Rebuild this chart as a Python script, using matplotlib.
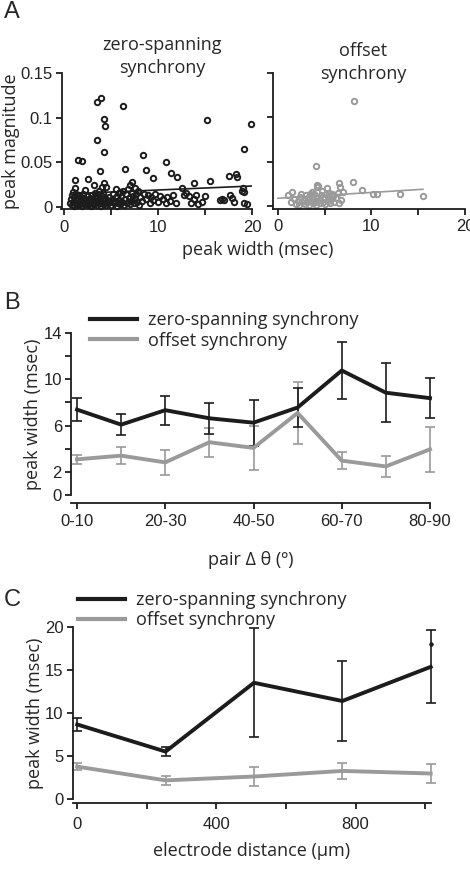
import matplotlib
matplotlib.use("Agg")
import matplotlib.pyplot as plt
from matplotlib.lines import Line2D

# ---------------- data ----------------
# Panel A: zero-spanning synchrony scatter (peak width msec, peak magnitude)
zero_x = [1.13, 1.45, 1.95, 2.5, 3.5, 3.9, 3.5, 3.8, 4.2, 4.25, 4.36, 4.3, 4.5, 6.27, 6.5, 8.37, 8.7, 9.5,
          10.9, 11.4, 12.0, 13.8, 15.2, 15.5, 17.6, 18.3, 18.4, 19.15, 19.86,
          0.6, 0.7, 0.8, 0.9, 1.0, 1.0, 1.1, 1.1, 1.2, 1.2, 1.3, 1.3, 1.4, 1.5, 1.5, 1.6, 1.7, 1.7, 1.8, 1.9,
          2.0, 2.0, 2.1, 2.2, 2.3, 2.4, 2.5, 2.6, 2.7, 2.8, 2.9, 3.0, 3.0, 3.1, 3.2, 3.3, 3.3, 3.4, 3.5, 3.5,
          3.6, 3.7, 3.7, 3.8, 3.9, 3.9, 4.0, 4.1, 4.1, 4.2, 4.3, 4.4, 4.5, 4.6, 4.7, 4.8, 4.9, 5.0, 5.1, 5.2,
          5.3, 5.4, 5.5, 5.6, 5.7, 5.8, 5.9, 6.0, 6.1, 6.2, 6.3, 6.4, 6.5, 6.6, 6.7, 6.8, 6.9, 7.0, 7.0, 7.1,
          7.2, 7.2, 7.3, 7.4, 7.5, 7.6, 7.7, 7.8, 7.9, 8.0, 8.1, 8.3, 8.5, 8.7, 8.9, 9.1, 9.3, 9.5, 9.7, 10.0,
          10.2, 10.5, 10.8, 11.0, 11.3, 11.6, 11.9, 12.5, 12.8, 13.0, 13.3, 13.5, 13.8, 14.0, 14.3, 14.7, 15.0,
          16.6, 16.8, 17.0, 17.7, 17.9, 18.1, 18.9, 19.0, 19.2, 19.1, 19.5, 3.2, 4.0, 2.2, 5.5, 6.0]
zero_y = [0.030, 0.0527, 0.0515, 0.031, 0.117, 0.122, 0.0745, 0.040, 0.062, 0.099, 0.0906, 0.027, 0.0227,
          0.113, 0.043, 0.058, 0.041, 0.033, 0.050, 0.038, 0.034, 0.027, 0.097, 0.029, 0.035, 0.037, 0.034,
          0.065, 0.0926,
          0.004, 0.009, 0.002, 0.013, 0.006, 0.017, 0.001, 0.011, 0.021, 0.004, 0.008, 0.015, 0.002, 0.010,
          0.005, 0.013, 0.003, 0.007, 0.011, 0.001, 0.006, 0.014, 0.003, 0.009, 0.005, 0.012, 0.002, 0.007,
          0.004, 0.010, 0.001, 0.006, 0.013, 0.003, 0.008, 0.016, 0.005, 0.011, 0.002, 0.007, 0.014, 0.004,
          0.018, 0.009, 0.001, 0.006, 0.012, 0.003, 0.016, 0.008, 0.005, 0.010, 0.002, 0.007, 0.004, 0.011,
          0.006, 0.002, 0.009, 0.014, 0.004, 0.007, 0.011, 0.001, 0.005, 0.016, 0.008, 0.003, 0.012, 0.006,
          0.018, 0.002, 0.009, 0.014, 0.005, 0.020, 0.010, 0.003, 0.025, 0.007, 0.016, 0.028, 0.012, 0.004,
          0.021, 0.009, 0.014, 0.006, 0.018, 0.002, 0.011, 0.007, 0.015, 0.009, 0.013, 0.005, 0.011, 0.008,
          0.015, 0.006, 0.012, 0.009, 0.004, 0.011, 0.007, 0.013, 0.005, 0.021, 0.013, 0.016, 0.012, 0.004,
          0.009, 0.013, 0.003, 0.006, 0.012, 0.008, 0.009, 0.008, 0.013, 0.010, 0.006, 0.018, 0.021, 0.017,
          0.004, 0.003, 0.025, 0.022, 0.019, 0.020, 0.017]
zero_fit_x = [1.0, 20.0]
zero_fit_y = [0.015, 0.0235]

# Panel A: offset synchrony scatter
off_x = [8.1, 4.1, 4.15, 4.3, 4.2, 5.2, 6.5, 6.6, 7.0, 8.0, 9.0, 10.2, 10.55, 13.0, 15.5, 1.5, 1.1, 6.4, 5.8,
         1.4, 1.7, 1.9, 2.1, 2.3, 2.4, 2.6, 2.8, 2.9, 3.0, 3.1, 3.2, 3.3, 3.4, 3.5, 3.6, 3.7, 3.8, 3.9, 4.0,
         4.1, 4.2, 4.4, 4.5, 4.6, 4.8, 4.9, 5.0, 5.1, 5.3, 5.4, 5.6, 5.7, 5.9, 6.0, 6.2, 6.5, 6.7, 2.5, 3.6,
         4.7, 5.5]
off_y = [0.118, 0.045, 0.024, 0.023, 0.021, 0.020, 0.026, 0.0215, 0.016, 0.027, 0.018, 0.0135, 0.014, 0.014,
         0.0115, 0.016, 0.012, 0.015, 0.014,
         0.004, 0.008, 0.002, 0.006, 0.001, 0.010, 0.004, 0.007, 0.002, 0.012, 0.005, 0.009, 0.001, 0.014,
         0.006, 0.010, 0.003, 0.008, 0.013, 0.005, 0.001, 0.010, 0.007, 0.003, 0.012, 0.005, 0.009, 0.002,
         0.013, 0.006, 0.010, 0.003, 0.008, 0.011, 0.005, 0.009, 0.003, 0.007, 0.013, 0.016, 0.017, 0.015]
off_fit_x = [0.0, 15.5]
off_fit_y = [0.0087, 0.0188]

# Panel B: peak width vs pair delta theta
theta_labels = ["0-10", "10-20", "20-30", "30-40", "40-50", "50-60", "60-70", "70-80", "80-90"]
b_zero = [7.38, 6.08, 7.33, 6.63, 6.25, 7.56, 10.76, 8.84, 8.37]
b_zero_err = [1.0, 0.9, 1.25, 1.35, 2.0, 1.65, 2.45, 2.55, 1.73]
b_off = [3.08, 3.4, 2.82, 4.56, 4.07, 7.09, 2.97, 2.47, 3.95]
b_off_err = [0.37, 0.72, 1.1, 1.25, 1.9, 2.65, 0.76, 0.9, 1.96]

# Panel C: peak width vs electrode distance
dist = [0, 254, 508, 762, 1016]
c_zero = [8.7, 5.55, 13.55, 11.43, 15.4]
c_zero_err = [0.7, 0.5, 6.35, 4.7, 4.25]
c_off = [3.8, 2.2, 2.65, 3.3, 3.0]
c_off_err = [0.45, 0.55, 1.05, 0.95, 1.1]
c_extra_x = [1016]
c_extra_y = [18.0]

# ---------------- style ----------------
W, H = 470, 872
BLACK = "#1c1c1c"
GRAY = "#9a9a9a"
TXT = "#262626"
LAB_FONT = ["Open Sans", "DejaVu Sans"]
TICK_FONT = ["Liberation Sans", "DejaVu Sans"]
LS = 13  # label font size
TS = 12  # tick font size

plt.rcParams["font.family"] = TICK_FONT
plt.rcParams["axes.linewidth"] = 1.3
plt.rcParams["xtick.major.width"] = 1.3
plt.rcParams["ytick.major.width"] = 1.3
plt.rcParams["xtick.major.size"] = 4.5
plt.rcParams["ytick.major.size"] = 4.5
plt.rcParams["xtick.labelsize"] = TS
plt.rcParams["ytick.labelsize"] = TS
plt.rcParams["xtick.color"] = BLACK
plt.rcParams["ytick.color"] = BLACK
plt.rcParams["xtick.labelcolor"] = "#222222"
plt.rcParams["ytick.labelcolor"] = "#222222"

fig = plt.figure(figsize=(W / 100, H / 100), dpi=100)


def rect(l, t, r, b):
    return [l / W, 1 - b / H, (r - l) / W, (b - t) / H]


def fx(px):
    return px / W


def fy(py):
    return 1 - py / H


def clean(ax):
    for s in ("top", "right"):
        ax.spines[s].set_visible(False)
    for s in ("left", "bottom"):
        ax.spines[s].set_color(BLACK)


# ---------------- Panel A left ----------------
axA1 = fig.add_axes(rect(61.5, 73, 252, 209.5))
clean(axA1)
axA1.plot(zero_x, zero_y, linestyle="none", marker="o", markersize=3.9, markerfacecolor="none",
          markeredgecolor=BLACK, markeredgewidth=1.4, clip_on=False)
axA1.plot(zero_fit_x, zero_fit_y, color=BLACK, lw=1.2)
axA1.set_xlim(-0.27, 20)
axA1.set_ylim(-0.0028, 0.15)
axA1.set_xticks([0, 5, 10, 15, 20])
axA1.set_xticklabels(["0", "", "10", "", "20"])
axA1.set_yticks([0, 0.05, 0.1, 0.15])
axA1.set_yticklabels(["0", "0.05", "0.1", "0.15"])
axA1.tick_params(axis="y", pad=2)
axA1.tick_params(axis="x", pad=3)
axA1.set_ylabel("peak magnitude", family=LAB_FONT, fontsize=LS, color=TXT, labelpad=0)
fig.text(fx(162), fy(56.5), "zero-spanning\nsynchrony", ha="center", va="center",
         family=LAB_FONT, fontsize=LS, color=TXT, linespacing=1.3)

# ---------------- Panel A right ----------------
axA2 = fig.add_axes(rect(273, 72.7, 465, 209))
clean(axA2)
axA2.plot(off_x, off_y, linestyle="none", marker="o", markersize=3.9, markerfacecolor="none",
          markeredgecolor=GRAY, markeredgewidth=1.4, clip_on=False)
axA2.plot(off_fit_x, off_fit_y, color=GRAY, lw=1.2)
axA2.set_xlim(-0.53, 20)
axA2.set_ylim(-0.0034, 0.15)
axA2.set_xticks([0, 5, 10, 15, 20])
axA2.set_xticklabels(["0", "", "10", "", "20"])
axA2.set_yticks([0, 0.05, 0.1, 0.15])
axA2.set_yticklabels([])
axA2.tick_params(axis="x", pad=3)
fig.text(fx(363), fy(62.5), "offset\nsynchrony", ha="center", va="center",
         family=LAB_FONT, fontsize=LS, color=TXT, linespacing=1.3)

fig.text(fx(258), fy(250), "peak width (msec)", ha="center", va="center", family=LAB_FONT,
         fontsize=LS, color=TXT)
fig.text(fx(4), fy(12), "A", ha="left", va="center", fontsize=17, color=TXT, family=TICK_FONT)

# ---------------- Panel B ----------------
axB = fig.add_axes(rect(71, 333, 430, 495))
clean(axB)
xb = list(range(len(theta_labels)))
axB.errorbar(xb, b_off, yerr=b_off_err, color=GRAY, lw=2.8, elinewidth=1.2, capsize=3.5,
             capthick=1.2, clip_on=False, label="offset synchrony")
axB.errorbar(xb, b_zero, yerr=b_zero_err, color=BLACK, lw=2.8, elinewidth=1.2, capsize=3.5,
             capthick=1.2, clip_on=False, label="zero-spanning synchrony")
axB.set_xlim(-0.136, 8)
axB.set_ylim(0, 14)
axB.spines["bottom"].set_position(("outward", 6.1))
axB.set_xticks(xb[::2])
axB.set_xticklabels(theta_labels[::2])
axB.set_yticks([0, 2, 4, 6, 8, 10, 12, 14])
axB.set_yticklabels(["0", "2", "", "6", "", "10", "", "14"])
axB.tick_params(axis="y", pad=2)
axB.tick_params(axis="x", pad=3)
axB.set_ylabel("peak width (msec)", family=LAB_FONT, fontsize=LS, color=TXT, labelpad=1)
axB.set_xlabel("pair Δ θ (º)", family=LAB_FONT, fontsize=LS, color=TXT, labelpad=16)
legB = [Line2D([0], [0], color=BLACK, lw=3), Line2D([0], [0], color=GRAY, lw=3)]
axB.legend(legB, ["zero-spanning synchrony", "offset synchrony"], loc="upper left",
           bbox_to_anchor=(fx(90), fy(311)), bbox_transform=fig.transFigure, frameon=False,
           borderpad=0, borderaxespad=0, handlelength=2.6, handletextpad=0.6, labelspacing=0.15,
           prop={"family": LAB_FONT, "size": LS}, labelcolor=TXT)
fig.text(fx(4), fy(303), "B", ha="left", va="center", fontsize=17, color=TXT, family=TICK_FONT)

# ---------------- Panel C ----------------
axC = fig.add_axes(rect(72.7, 627.3, 430.7, 799.3))
clean(axC)
axC.errorbar(dist, c_off, yerr=c_off_err, color=GRAY, lw=2.8, elinewidth=1.2, capsize=3.5,
             capthick=1.2, clip_on=False)
axC.errorbar(dist, c_zero, yerr=c_zero_err, color=BLACK, lw=2.8, elinewidth=1.2, capsize=3.5,
             capthick=1.2, clip_on=False)
axC.plot(c_extra_x, c_extra_y, linestyle="none", marker="o", markersize=2.2, color=BLACK, clip_on=False)
axC.set_xlim(-13, 1016)
axC.set_ylim(0, 20)
axC.spines["bottom"].set_position(("outward", 2.5))
axC.set_xticks([0, 200, 400, 600, 800, 1000])
axC.set_xticklabels(["0", "", "400", "", "800", ""])
axC.set_yticks([0, 5, 10, 15, 20])
axC.tick_params(axis="y", pad=2)
axC.tick_params(axis="x", pad=6)
axC.set_ylabel("peak width (msec)", family=LAB_FONT, fontsize=LS, color=TXT, labelpad=1)
axC.set_xlabel("electrode distance (µm)", family=LAB_FONT, fontsize=LS, color=TXT, labelpad=7)
legC = [Line2D([0], [0], color=BLACK, lw=3), Line2D([0], [0], color=GRAY, lw=3)]
axC.legend(legC, ["zero-spanning synchrony", "offset synchrony"], loc="upper left",
           bbox_to_anchor=(fx(78), fy(591)), bbox_transform=fig.transFigure, frameon=False,
           borderpad=0, borderaxespad=0, handlelength=2.6, handletextpad=0.6, labelspacing=0.12,
           prop={"family": LAB_FONT, "size": LS}, labelcolor=TXT)
fig.text(fx(4), fy(600), "C", ha="left", va="center", fontsize=17, color=TXT, family=TICK_FONT)

fig.savefig("out.png", dpi=100)
